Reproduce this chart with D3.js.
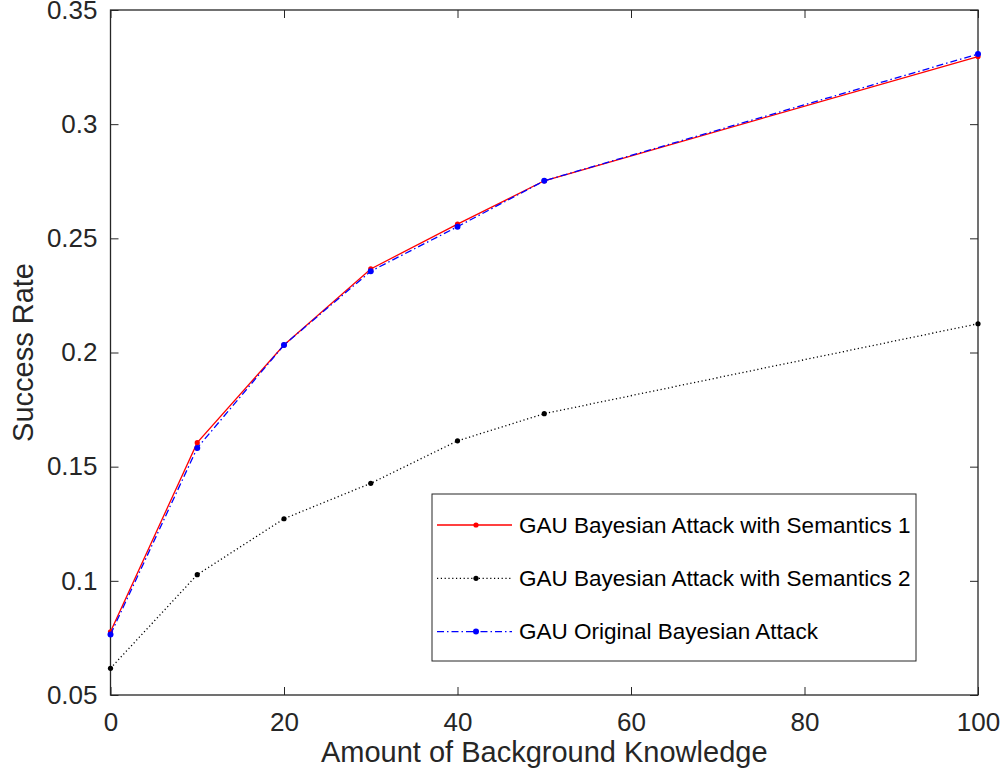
<!DOCTYPE html>
<html>
<head>
<meta charset="utf-8">
<script src="https://cdn.jsdelivr.net/npm/d3@7"></script>
<style>
  body { margin: 0; background: #fff; }
  svg { display: block; }
  text { font-family: "Liberation Sans", Arial, sans-serif; }
</style>
</head>
<body>
<svg id="chart" width="1003" height="782"></svg>
<script>
// data
var knowledge = [0, 10, 20, 30, 40, 50, 100];
var semantics1 = [0.0777, 0.1605, 0.2033, 0.2366, 0.2562, 0.2752, 0.3296];
var semantics2 = [0.0617, 0.1027, 0.1272, 0.1427, 0.1613, 0.1732, 0.2126];
var original   = [0.0765, 0.1582, 0.2033, 0.2356, 0.2551, 0.2752, 0.3307];
var seriesNames = ["GAU Bayesian Attack with Semantics 1", "GAU Bayesian Attack with Semantics 2", "GAU Original Bayesian Attack"];
var xTicks = [0, 20, 40, 60, 80, 100];
var yTicks = [0.05, 0.1, 0.15, 0.2, 0.25, 0.3, 0.35];

var margin = {top: 10, right: 25, bottom: 87, left: 110.5};
var width = 1003 - margin.left - margin.right,
    height = 782 - margin.top - margin.bottom;

var svg = d3.select("#chart");
var g = svg.append("g").attr("transform", "translate(" + margin.left + "," + margin.top + ")");

var x = d3.scaleLinear().domain([0, 100]).range([0, width]);
var y = d3.scaleLinear().domain([0.05, 0.35]).range([height, 0]);

var axisColor = "#262626";
var tickLen = 8;

function styleAxis(sel) {
  sel.select(".domain").remove();
  sel.selectAll("line").attr("stroke", axisColor).attr("stroke-width", 1);
  sel.selectAll("text").attr("fill", axisColor).style("font-size", "26px");
}

// bottom / left axes with inward ticks
g.append("g")
  .attr("transform", "translate(0," + height + ")")
  .call(d3.axisBottom(x).tickValues(xTicks).tickSizeInner(-tickLen).tickSizeOuter(0).tickPadding(18).tickFormat(d3.format("d")))
  .call(styleAxis);

g.append("g")
  .call(d3.axisLeft(y).tickValues(yTicks).tickSizeInner(-tickLen).tickSizeOuter(0).tickPadding(13).tickFormat(function(d){ return String(+d.toFixed(2)); }))
  .call(styleAxis);

// top / right ticks (box on)
g.append("g")
  .call(d3.axisTop(x).tickValues(xTicks).tickSizeInner(-tickLen).tickSizeOuter(0).tickFormat(""))
  .call(styleAxis);
g.append("g")
  .attr("transform", "translate(" + width + ",0)")
  .call(d3.axisRight(y).tickValues(yTicks).tickSizeInner(-tickLen).tickSizeOuter(0).tickFormat(""))
  .call(styleAxis);

g.append("rect")
  .attr("width", width).attr("height", height)
  .attr("fill", "none").attr("stroke", axisColor).attr("stroke-width", 1.3);

// axis labels
g.append("text")
  .attr("x", width / 2).attr("y", height + 67)
  .attr("text-anchor", "middle")
  .attr("fill", axisColor)
  .style("font-size", "29px")
  .text("Amount of Background Knowledge");

svg.append("text")
  .attr("transform", "translate(33," + (margin.top + height / 2) + ") rotate(-90)")
  .attr("text-anchor", "middle")
  .attr("fill", axisColor)
  .style("font-size", "29px")
  .text("Success Rate");

var series = [
  {name: seriesNames[0], values: semantics1, color: "#ff0000", dash: null, r: 2.6},
  {name: seriesNames[1], values: semantics2, color: "#000000", dash: "1.2,2.6", r: 2.6},
  {name: seriesNames[2], values: original, color: "#0000ff", dash: "7,3,1.5,3", r: 3}
];

var line = d3.line()
  .x(function(d){ return x(d[0]); })
  .y(function(d){ return y(d[1]); });

series.forEach(function(s){
  var pts = knowledge.map(function(k, i){ return [k, s.values[i]]; });
  g.append("path")
    .datum(pts)
    .attr("fill", "none")
    .attr("stroke", s.color)
    .attr("stroke-width", 1.3)
    .attr("stroke-dasharray", s.dash)
    .attr("d", line);
  g.selectAll(null)
    .data(pts)
    .enter()
    .append("circle")
    .attr("cx", function(d){ return x(d[0]); })
    .attr("cy", function(d){ return y(d[1]); })
    .attr("r", s.r)
    .attr("fill", s.color);
});

// legend
var legend = svg.append("g").attr("transform", "translate(432,494)");
legend.append("rect")
  .attr("width", 484).attr("height", 167)
  .attr("fill", "#fff").attr("stroke", axisColor).attr("stroke-width", 1);

series.forEach(function(s, i){
  var row = legend.append("g").attr("transform", "translate(0," + (31 + i * 53.3) + ")");
  row.append("line")
    .attr("x1", 5).attr("x2", 80)
    .attr("stroke", s.color).attr("stroke-width", 1.3)
    .attr("stroke-dasharray", s.dash);
  row.append("circle").attr("cx", 44).attr("r", s.r).attr("fill", s.color);
  row.append("text")
    .attr("x", 87).attr("dy", "0.35em")
    .attr("fill", "#000")
    .style("font-size", "22.5px")
    .text(s.name);
});
</script>
</body>
</html>
